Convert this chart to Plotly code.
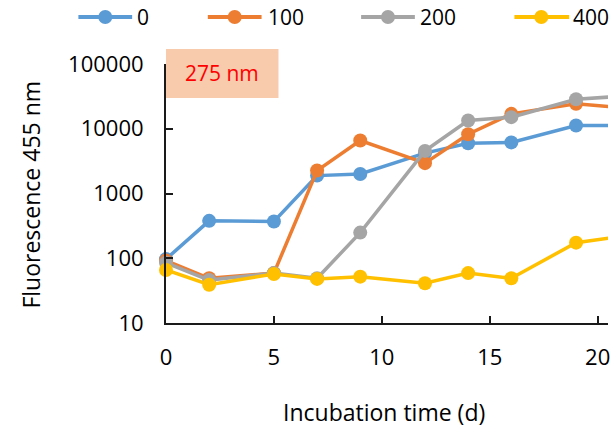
import plotly.graph_objects as go

days = [0, 2, 5, 7, 9, 12, 14, 16, 19, 21]
series_names = ["0", "100", "200", "400"]
vals_0 = [97, 378, 370, 1890, 2000, 4200, 5980, 6150, 11200, 11200]
vals_100 = [92, 49, 59, 2260, 6570, 2940, 8240, 17000, 24300, 21300]
vals_200 = [85, 46, 59, 49, 249, 4550, 13400, 15100, 28600, 31600]
vals_400 = [66, 39, 57, 48, 52, 41, 59, 49, 174, 215]
colors = ["#5B9BD5", "#ED7D31", "#A5A5A5", "#FFC000"]
y_ticks = [10, 100, 1000, 10000, 100000]
x_ticks = [0, 5, 10, 15, 20]

FONT = "Open Sans"
FS_TICK = 22
FS_LEG = 21
FS_TITLE = 23
W, H = 610, 427
L, R, T, B = 166, 0, 64, 104
PW, PH = W - L - R, H - T - B

def px(x):
    return (x - L) / PW

def py(y):
    return (H - B - y) / PH

fig = go.Figure()
all_vals = [vals_0, vals_100, vals_200, vals_400]
for name, vals, c in zip(series_names, all_vals, colors):
    fig.add_trace(go.Scatter(
        x=days, y=vals, name=name, mode="lines+markers",
        line=dict(color=c, width=3.5),
        marker=dict(color=c, size=14),
        cliponaxis=False, showlegend=False,
    ))

shapes = []
annotations = []
# manual legend
leg = [(78, 132, 105, 137), (208, 262, 235, 268), (362, 416, 389, 421), (516, 571, 543, 575)]
ly = 17
for (x0, x1, xm, xt), name, c in zip(leg, series_names, colors):
    shapes.append(dict(type="line", xref="paper", yref="paper",
                       x0=px(x0), x1=px(x1), y0=py(ly), y1=py(ly),
                       line=dict(color=c, width=4)))
    shapes.append(dict(type="circle", xref="paper", yref="paper",
                       xsizemode="pixel", ysizemode="pixel",
                       xanchor=px(xm), yanchor=py(ly),
                       x0=-7, x1=7, y0=-7, y1=7,
                       fillcolor=c, line=dict(width=0)))
    annotations.append(dict(text=name, xref="paper", yref="paper",
                            x=px(xt - 2), y=py(ly), xanchor="left", yanchor="middle",
                            showarrow=False, font=dict(family=FONT, size=FS_LEG, color="black")))

# label box
shapes.append(dict(type="rect", xref="paper", yref="paper",
                   x0=px(166), x1=px(279), y0=py(98), y1=py(49),
                   fillcolor="#F8CBAD", line=dict(width=0), layer="above"))
annotations.append(dict(text="275 nm", xref="paper", yref="paper",
                        x=px(222), y=py(73), xanchor="center", yanchor="middle",
                        showarrow=False, font=dict(family=FONT, size=FS_LEG, color="#FF0000")))
# axis titles
annotations.append(dict(text="Fluorescence 455 nm", xref="paper", yref="paper",
                        x=px(30), y=py(195), xanchor="center", yanchor="middle",
                        textangle=-90, showarrow=False,
                        font=dict(family=FONT, size=FS_TITLE, color="black")))
annotations.append(dict(text="Incubation time (d)", xref="paper", yref="paper",
                        x=px(385), y=py(412), xanchor="center", yanchor="middle",
                        showarrow=False, font=dict(family=FONT, size=FS_TITLE, color="black")))

fig.update_layout(
    width=W, height=H,
    margin=dict(l=L, r=R, t=T, b=B, pad=0),
    paper_bgcolor="white", plot_bgcolor="white",
    font=dict(family=FONT, size=FS_TICK, color="black"),
    shapes=shapes, annotations=annotations,
    showlegend=False,
)
fig.update_xaxes(
    range=[0, PW / 21.68], tickvals=x_ticks, ticktext=[str(v) for v in x_ticks],
    showgrid=False, zeroline=False, showline=True, linecolor="#1a1a1a", linewidth=2,
    ticks="inside", ticklen=7, tickwidth=2, tickcolor="#1a1a1a",
    ticklabelstandoff=14, ticklabeloverflow="allow",
    tickfont=dict(family=FONT, size=FS_TICK, color="black"),
)
fig.update_yaxes(
    type="log", range=[1, 5], tickvals=y_ticks, ticktext=[str(v) for v in y_ticks],
    showgrid=False, zeroline=False, showline=True, linecolor="#1a1a1a", linewidth=2,
    ticks="inside", ticklen=7, tickwidth=2, tickcolor="#1a1a1a",
    ticklabelstandoff=16, ticklabeloverflow="allow",
    tickfont=dict(family=FONT, size=FS_TICK, color="black"),
)
fig.write_html("out.html")
